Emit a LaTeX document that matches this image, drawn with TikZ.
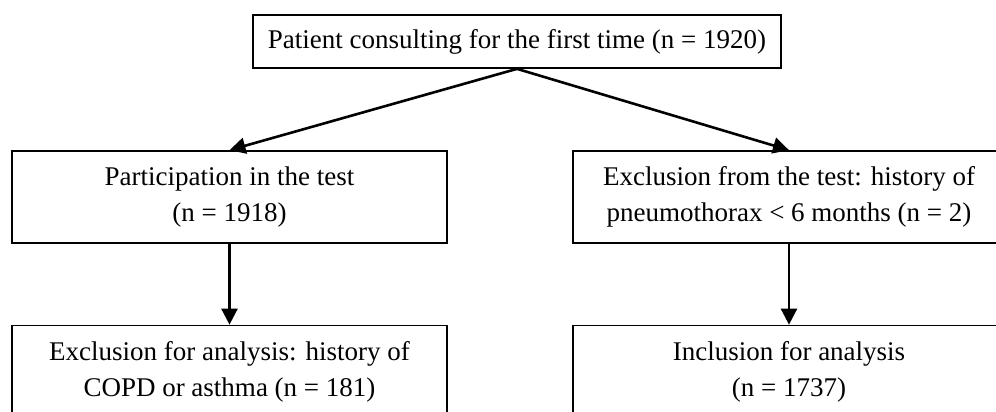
\documentclass[tikz,border=0pt]{standalone}
\usepackage{fontspec}
\setmainfont{Liberation Serif}
\usetikzlibrary{arrows.meta}
\begin{document}
\begin{tikzpicture}[x=1pt,y=-1pt,
  box/.style={draw, line width=1.7pt, inner sep=0pt, align=center,
    font=\fontsize{27}{36}\selectfont},
  arr/.style={line width=2.6pt, -{Triangle[length=16pt,width=16pt]}}]
\useasboundingbox (0,0) rectangle (996,412);
\clip (0,0) rectangle (996,412);
\node[box, minimum width=528pt, minimum height=53pt] (top) at (517,41.5)
  {Patient consulting for the first time (n = 1920)};
\node[box, minimum width=435pt, minimum height=92pt] (pl) at (229.5,197)
  {Participation in the test\\(n = 1918)};
\node[box, minimum width=432pt, minimum height=92pt] (pr) at (789,197)
  {Exclusion from the test: history of\\pneumothorax < 6 months (n = 2)};
\node[box, minimum width=435pt, minimum height=92pt] (bl) at (229.5,371.5)
  {Exclusion for analysis: history of\\COPD or asthma (n = 181)};
\node[box, minimum width=432pt, minimum height=92pt] (br) at (789,371.5)
  {Inclusion for analysis\\(n = 1737)};
\draw[arr] (top.south) -- (pl.north);
\draw[arr] (top.south) -- (pr.north);
\draw[arr] (pl.south) -- (bl.north);
\draw[arr] (pr.south) -- (br.north);
\end{tikzpicture}
\end{document}
